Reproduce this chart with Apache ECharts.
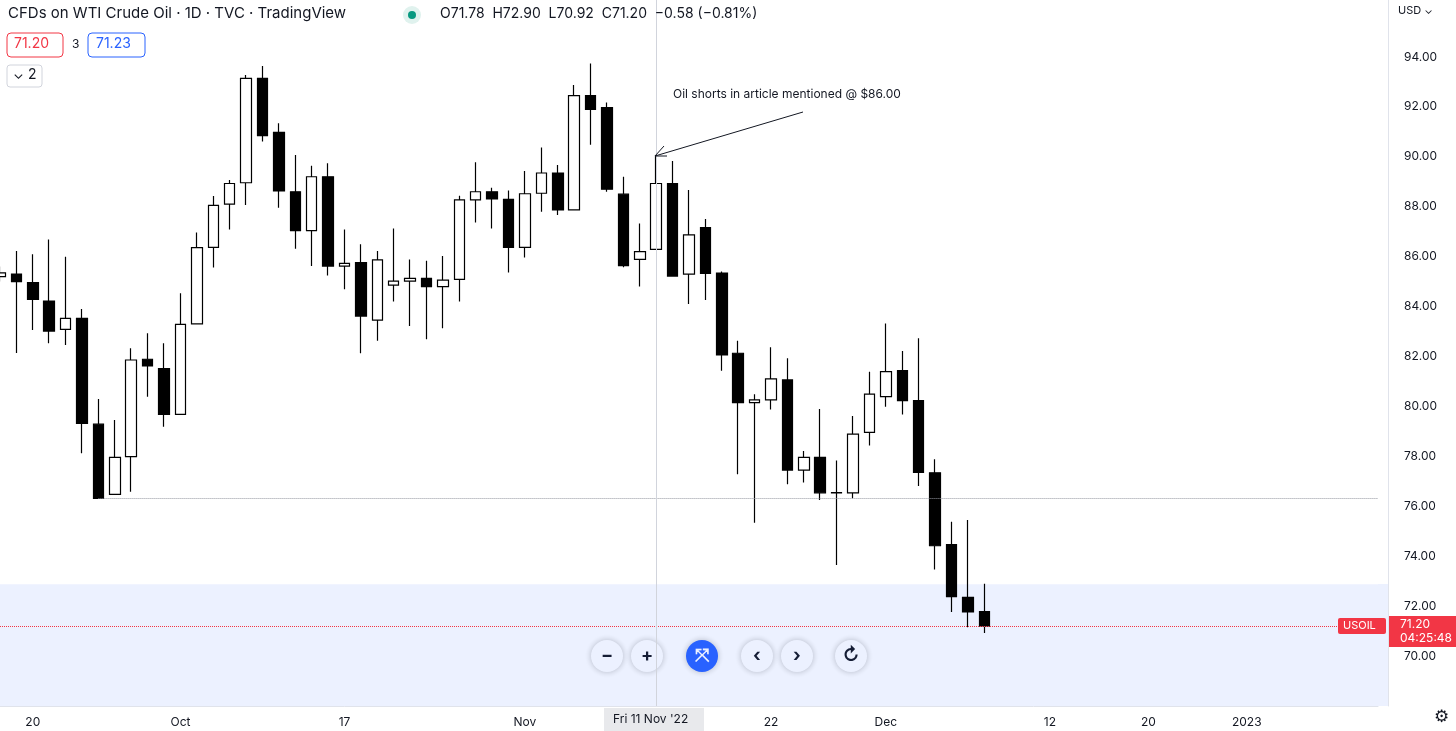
<!DOCTYPE html>
<html><head><meta charset="utf-8">
<script src="https://cdn.jsdelivr.net/npm/echarts@6/dist/echarts.min.js"></script>
<style>html,body{margin:0;padding:0;background:#fff}#c{width:1456px;height:731px}</style>
</head><body><div id="c"></div>
<script>
const dates = ['2022-09-16','2022-09-19','2022-09-20','2022-09-21','2022-09-22','2022-09-23','2022-09-26','2022-09-27','2022-09-28','2022-09-29','2022-09-30',
'2022-10-03','2022-10-04','2022-10-05','2022-10-06','2022-10-07','2022-10-10','2022-10-11','2022-10-12','2022-10-13','2022-10-14',
'2022-10-17','2022-10-18','2022-10-19','2022-10-20','2022-10-21','2022-10-24','2022-10-25','2022-10-26','2022-10-27','2022-10-28',
'2022-10-31','2022-11-01','2022-11-02','2022-11-03','2022-11-04','2022-11-07','2022-11-08','2022-11-09','2022-11-10','2022-11-11',
'2022-11-14','2022-11-15','2022-11-16','2022-11-17','2022-11-18','2022-11-21','2022-11-22','2022-11-23','2022-11-24','2022-11-25',
'2022-11-28','2022-11-29','2022-11-30','2022-12-01','2022-12-02','2022-12-05','2022-12-06','2022-12-07','2022-12-08','2022-12-09'];
const futureSlots = ['f1','f2','f3','f4','f5','f6','f7','f8','f9','f10','f11','f12','f13','f14','f15','f16','f17','f18','f19','f20','f21','f22','f23','f24'];
const open  = [85.20,85.30,84.96,84.22,83.09,83.53,79.29,76.48,77.99,81.89,81.52,79.68,83.31,86.37,88.10,88.96,93.14,90.98,88.60,87.04,89.20,
85.62,85.76,83.46,84.86,85.02,85.13,84.80,85.09,88.27,88.60,88.29,86.37,88.54,89.35,87.87,92.45,91.97,88.50,85.89,86.29,
88.93,85.30,87.16,85.34,82.13,80.15,80.26,81.06,77.45,77.96,76.54,76.54,78.96,80.39,81.43,80.23,77.34,74.47,72.35,71.78];
const close = [85.35,85.00,84.29,83.02,83.53,79.32,76.32,77.96,81.86,81.62,79.68,83.29,86.36,88.05,88.93,93.14,90.85,88.63,87.04,89.20,85.62,
85.73,83.62,85.87,85.02,85.13,84.80,85.06,88.27,88.60,88.31,86.37,88.52,89.35,87.87,92.45,91.90,88.70,85.64,86.20,88.93,
85.22,86.87,85.33,82.06,80.15,80.26,81.10,77.45,77.96,76.54,76.55,78.89,80.49,81.39,80.23,77.36,74.42,72.38,71.77,71.20];
const high  = [85.60,86.23,86.10,86.69,86.00,83.90,80.30,79.46,82.33,82.93,82.53,84.53,86.97,88.43,89.07,93.28,93.64,91.34,90.07,89.64,89.74,
87.09,86.50,86.23,87.13,85.89,85.84,86.03,88.44,89.78,88.76,88.65,89.43,90.37,89.67,92.88,93.74,92.17,89.20,87.33,90.07,
89.83,88.67,87.51,85.40,82.63,80.49,82.37,81.93,78.21,79.90,77.83,79.62,81.39,83.32,82.22,82.73,77.88,75.38,75.45,72.90];
const low   = [85.00,82.14,83.06,82.53,82.46,78.12,76.30,76.45,76.58,80.39,79.19,79.68,83.31,85.56,87.09,88.07,90.61,87.96,86.32,85.62,85.24,
84.69,82.13,82.63,84.20,83.22,82.69,83.13,84.20,87.37,87.13,85.36,85.97,87.80,87.67,87.87,90.48,88.60,85.57,84.80,86.29,
85.20,84.10,84.26,81.43,77.28,75.34,79.88,76.88,76.95,76.25,73.65,76.32,78.43,79.99,79.68,76.81,73.47,71.77,71.15,70.92];
const xTickLabels = {'2022-09-20':'20','2022-10-03':'Oct','2022-10-17':'17','2022-11-01':'Nov','2022-11-22':'22','2022-12-01':'Dec','f4':'12','f10':'20','f16':'2023'};
const yTicks = [70,72,74,76,78,80,82,84,86,88,90,92,94];
const supportLevel = 76.32, lastPrice = 71.20, zoneTop = 72.88;

const cats = dates.concat(futureSlots);
const ohlc = dates.map((d,i)=>[open[i],close[i],low[i],high[i]]);
const chart = echarts.init(document.getElementById('c'));
const F = 'Inter, "Noto Sans", sans-serif';
const txt = (x,y,s,o={}) => ({type:'text',left:x,top:y,z:100,style:Object.assign({text:s,fill:'#131722',font:'14px '+F},o)});
const btn = (cx,s,blue) => ({type:'group',left:cx-16,top:640,z:100,children:[
  {type:'circle',shape:{cx:16,cy:16,r:16},style:{fill:blue?'#2962ff':'#fff',shadowBlur:6,shadowColor:'rgba(0,0,0,0.25)'}},
  {type:'text',style:{text:s,x:16,y:16,align:'center',verticalAlign:'middle',fill:blue?'#fff':'#131722',font:'bold 18px '+F}}]});
chart.setOption({
  animation:false,
  grid:{left:0,width:1378,top:0,bottom:25},
  xAxis:{type:'category',data:cats,boundaryGap:false,
    axisLine:{show:true,lineStyle:{color:'#e0e3eb'}},axisTick:{show:false},
    axisLabel:{interval:(i,v)=>v in xTickLabels,formatter:v=>xTickLabels[v]||'',color:'#131722',fontSize:12,fontFamily:F,margin:10},
    splitLine:{show:false}},
  yAxis:{type:'value',position:'right',offset:10,min:68,max:96.28,interval:2,scale:true,
    axisLine:{show:true,lineStyle:{color:'#e0e3eb'}},axisTick:{show:false},splitLine:{show:false},
    axisLabel:{showMaxLabel:false,showMinLabel:false,formatter:v=>yTicks.includes(v)?v.toFixed(2):'',color:'#131722',fontSize:12,fontFamily:F,margin:16}},
  series:[{type:'candlestick',data:ohlc,barWidth:11,
    itemStyle:{color:'#ffffff',color0:'#000000',borderColor:'#000000',borderColor0:'#000000',borderWidth:1.2},
    markArea:{silent:true,itemStyle:{color:'rgba(41,98,255,0.09)'},data:[[{yAxis:68,xAxis:cats[0]},{yAxis:zoneTop,xAxis:cats[cats.length-1]}]]},
    markLine:{silent:true,symbol:'none',label:{show:false},data:[
      [{coord:['2022-09-26',supportLevel],lineStyle:{color:'#9598a1',type:'dotted',width:1}},{coord:[cats[cats.length-1],supportLevel]}],
      {yAxis:lastPrice,lineStyle:{color:'#f23645',type:'dotted',width:1}},
      {xAxis:'2022-11-11',lineStyle:{color:'#d1d4dc',type:'solid',width:1}}]}}],
  graphic:[
    {type:'rect',z:1,shape:{x:1378,y:584,width:10,height:122},style:{fill:'rgba(41,98,255,0.09)'}},
    txt(8,6,'CFDs on WTI Crude Oil · 1D · TVC · TradingView',{font:'15px '+F}),
    {type:'circle',z:100,shape:{cx:412,cy:15,r:9},style:{fill:'#e0f2ee'}},
    {type:'circle',z:100,shape:{cx:412,cy:15,r:4},style:{fill:'#089981'}},
    txt(440,7,'O71.78  H72.90  L70.92  C71.20  −0.58 (−0.81%)'),
    {type:'rect',z:100,shape:{x:7,y:33,width:56,height:24,r:4},style:{fill:'#fff',stroke:'#f23645'}},
    txt(14,37,'71.20',{fill:'#f23645'}),
    txt(72,38,'3',{font:'12px '+F}),
    {type:'rect',z:100,shape:{x:88,y:33,width:57,height:24,r:4},style:{fill:'#fff',stroke:'#2962ff'}},
    txt(96,37,'71.23',{fill:'#2962ff'}),
    {type:'rect',z:100,shape:{x:7,y:65,width:35,height:22,r:3},style:{fill:'#fff',stroke:'#d1d4dc'}},
    txt(13,68,'⌄ 2',{font:'14px '+F}),
    txt(673,88,'Oil shorts in article mentioned @ $86.00',{font:'12px '+F}),
    {type:'line',z:100,shape:{x1:803,y1:112,x2:655,y2:156},style:{stroke:'#131722',lineWidth:1}},
    {type:'polyline',z:100,shape:{points:[[664,146],[655,156],[667,156]]},style:{stroke:'#131722',fill:null,lineWidth:1}},
    txt(1398,5,'USD ⌄',{font:'11px '+F}),
    {type:'rect',z:100,shape:{x:1338,y:618,width:48,height:16,r:2},style:{fill:'#f23645'}},
    txt(1343,620,'USOIL',{fill:'#fff',font:'11px '+F}),
    {type:'rect',z:100,shape:{x:1389,y:616,width:67,height:31},style:{fill:'#f23645'}},
    txt(1400,618,'71.20',{fill:'#fff',font:'12px '+F}),
    txt(1400,632,'04:25:48',{fill:'#fff',font:'12px '+F}),
    {type:'rect',z:100,shape:{x:604,y:708,width:100,height:23},style:{fill:'#e8e9ec'}},
    txt(613,713,"Fri 11 Nov '22",{font:'12px '+F}),
    txt(1434,709,'⚙',{font:'17px "DejaVu Sans"'}),
    btn(607,'−'),btn(647,'+'),btn(702,'⤧',true),btn(757,'‹'),btn(797,'›'),btn(851,'↻')
  ]
});
</script></body></html>
